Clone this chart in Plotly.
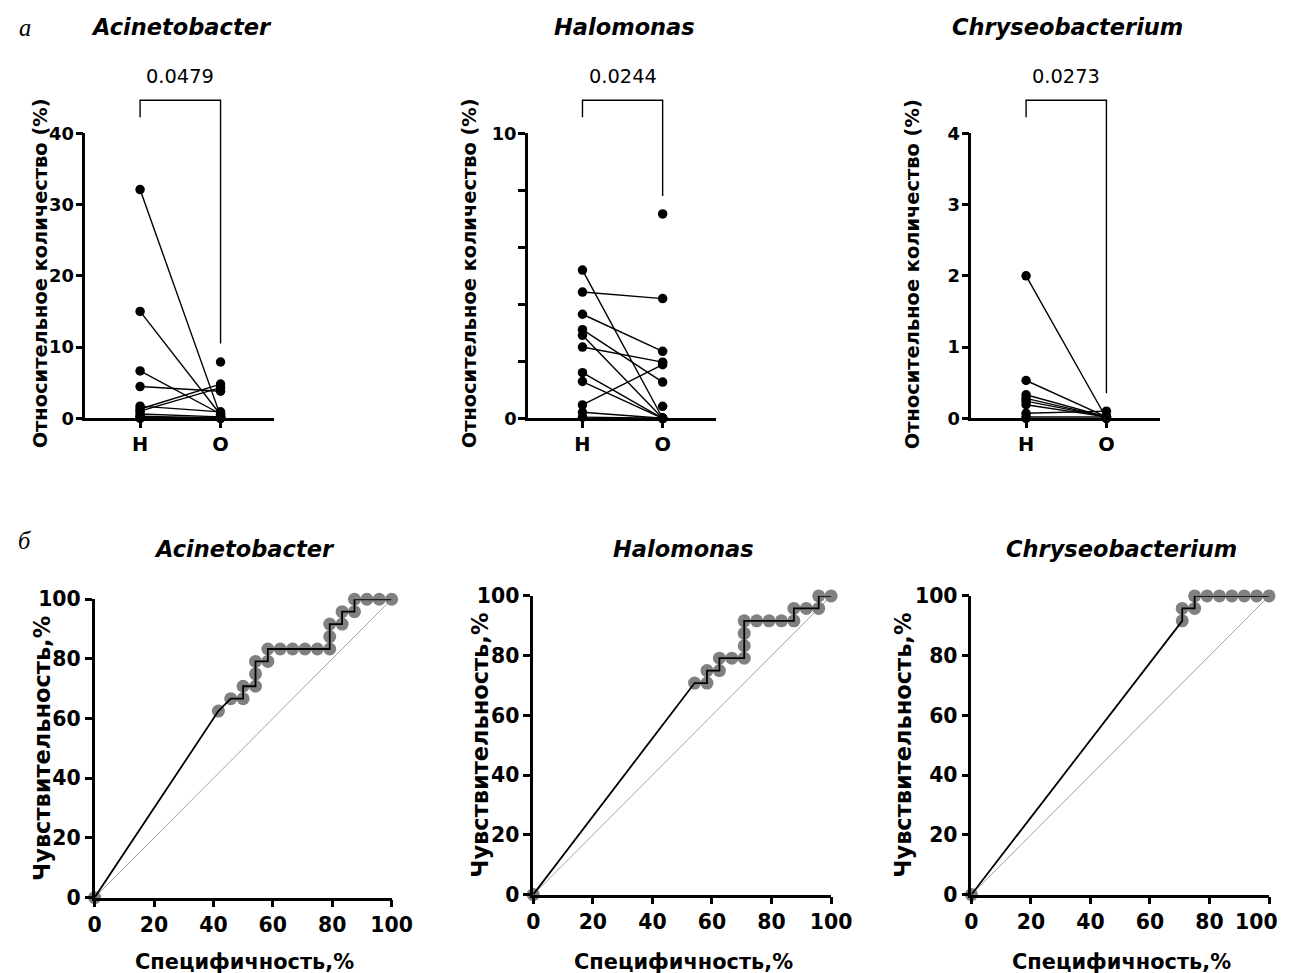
import plotly.graph_objects as go

# ---------------- data ----------------
groups = ["Н", "О"]
titles = ["Acinetobacter", "Halomonas", "Chryseobacterium"]
p_values = ["0.0479", "0.0244", "0.0273"]

# paired values (Н -> О), relative abundance, %
aci_H = [32.1, 15.0, 6.65, 4.45, 1.7, 1.3, 1.0, 0.6, 0.3, 0.1, 0.0]
aci_O = [0.3, 0.5, 0.6, 3.8, 0.9, 4.8, 4.3, 0.2, 0.0, 0.1, 0.0]
aci_O_single = [7.9]

hal_H = [5.2, 4.43, 3.65, 3.11, 2.91, 2.50, 1.60, 1.29, 0.47, 0.21, 0.04]
hal_O = [0.0, 4.20, 2.35, 1.27, 0.0, 1.97, 0.0, 0.0, 1.88, 0.0, 0.0]
hal_O_single = [7.17, 0.42]

chr_H = [2.0, 0.53, 0.33, 0.28, 0.24, 0.19, 0.07, 0.02, 0.0]
chr_O = [0.0, 0.02, 0.02, 0.02, 0.02, 0.02, 0.10, 0.02, 0.0]
chr_O_single = []

top_H = [aci_H, hal_H, chr_H]
top_O = [aci_O, hal_O, chr_O]
top_O_single = [aci_O_single, hal_O_single, chr_O_single]

top_ymax = [40, 10, 4]
top_ytickvals = [[0, 10, 20, 30, 40], [0, 2, 4, 6, 8, 10], [0, 1, 2, 3, 4]]
top_yticktext = [["0", "10", "20", "30", "40"], ["0", "", "", "", "", "10"], ["0", "1", "2", "3", "4"]]
bracket_leg_end = [10.5, 7.8, 0.35]

# ROC curves: specificity %, sensitivity %
aci_spec = [0, 41.67, 45.83, 50.0, 50.0, 54.17, 54.17, 54.17, 58.33, 58.33, 62.5, 66.67, 70.83, 75.0,
            79.17, 79.17, 79.17, 83.33, 83.33, 87.5, 87.5, 91.67, 95.83, 100]
aci_sens = [0, 62.5, 66.67, 66.67, 70.83, 70.83, 75.0, 79.17, 79.17, 83.33, 83.33, 83.33, 83.33, 83.33,
            83.33, 87.5, 91.67, 91.67, 95.83, 95.83, 100, 100, 100, 100]

hal_spec = [0, 54.17, 58.33, 58.33, 62.5, 62.5, 66.67, 70.83, 70.83, 70.83, 70.83, 75.0, 79.17, 83.33,
            87.5, 87.5, 91.67, 95.83, 95.83, 100]
hal_sens = [0, 70.83, 70.83, 75.0, 75.0, 79.17, 79.17, 79.17, 83.33, 87.5, 91.67, 91.67, 91.67, 91.67,
            91.67, 95.83, 95.83, 95.83, 100, 100]

chr_spec = [0, 70.83, 70.83, 75.0, 75.0, 79.17, 83.33, 87.5, 91.67, 95.83, 100]
chr_sens = [0, 91.67, 95.83, 95.83, 100, 100, 100, 100, 100, 100, 100]

roc_spec = [aci_spec, hal_spec, chr_spec]
roc_sens = [aci_sens, hal_sens, chr_sens]
roc_ticks = [0, 20, 40, 60, 80, 100]
roc_ticktext = ["0", "20", "40", "60", "80", "100"]

# ---------------- layout helpers ----------------
W, H = 1293, 973
FONT = "DejaVu Sans, Liberation Sans, Arial, sans-serif"
SERIF = "Liberation Serif, Times New Roman, serif"

# the page is photographed slightly scaled/offset; compensate so the
# final picture lines up with the target pixel positions
SX, OX, SY, OY = 0.983, 12.3, 0.9754, 19.7
FS = 1 / 0.979


def px_x(v):
    return ((v - OX) / SX) / W


def px_y(v):
    return 1 - ((v - OY) / SY) / H


def fs(v):
    return round(v * FS, 1)


top_xdom_px = [(83, 273), (527.7, 717), (973.3, 1163)]
top_ydom_px = (133, 418)
bot_xdom_px = [(92.3, 390.7), (533, 832.3), (973.3, 1272.3)]
bot_ydom_px = [(599, 897.3), (595.7, 894.3), (595.7, 894.3)]

top_title_px = [38, 469, 914]
bot_title_px = [40, 480, 905]

fig = go.Figure()

axis_common = dict(
    showline=True, linecolor="black", linewidth=2.6,
    ticks="outside", tickcolor="black", tickwidth=2.6, ticklen=7,
    showgrid=False, zeroline=False,
    tickfont=dict(family=FONT, size=fs(20), color="black", weight="bold"),
    fixedrange=True,
)
top_tickfont = dict(family=FONT, size=fs(17.5), color="black", weight="bold")

layout = dict(
    width=W, height=H,
    margin=dict(l=0, r=0, t=0, b=0),
    paper_bgcolor="white", plot_bgcolor="white",
    showlegend=False,
    font=dict(family=FONT, color="black"),
)

annotations = []
shapes = []

for i in range(3):
    n = i + 1
    xa = "x" if n == 1 else f"x{n}"
    ya = "y" if n == 1 else f"y{n}"
    # pair lines
    lx, ly = [], []
    for h, o in zip(top_H[i], top_O[i]):
        lx += [0, 1, None]
        ly += [h, o, None]
    fig.add_trace(go.Scatter(x=lx, y=ly, mode="lines", line=dict(color="black", width=1.4),
                             xaxis=xa, yaxis=ya, cliponaxis=False, hoverinfo="skip"))
    mx = [0] * len(top_H[i]) + [1] * (len(top_O[i]) + len(top_O_single[i]))
    my = list(top_H[i]) + list(top_O[i]) + list(top_O_single[i])
    fig.add_trace(go.Scatter(x=mx, y=my, mode="markers", marker=dict(color="black", size=9.5),
                             xaxis=xa, yaxis=ya, cliponaxis=False))

    x0, x1 = top_xdom_px[i]
    layout["xaxis" if n == 1 else f"xaxis{n}"] = dict(
        axis_common, domain=[px_x(x0), px_x(x1)], anchor=ya,
        range=[-0.68, 1.67], tickvals=[0, 1], ticktext=groups,
        tickfont=dict(top_tickfont, size=fs(19)),
    )
    layout["yaxis" if n == 1 else f"yaxis{n}"] = dict(
        axis_common, domain=[px_y(top_ydom_px[1]), px_y(top_ydom_px[0])], anchor=xa,
        range=[0, top_ymax[i]], tickvals=top_ytickvals[i], ticktext=top_yticktext[i],
        tickfont=top_tickfont, ticklabelstandoff=-2,
    )

    # significance bracket
    dom_h = top_ydom_px[1] - top_ydom_px[0]
    top_frac = (top_ydom_px[1] - 100) / dom_h
    left_end = (top_ydom_px[1] - 117) / dom_h
    right_end = bracket_leg_end[i] / top_ymax[i]
    shapes.append(dict(type="path", xref=xa, yref=f"{ya} domain",
                       path=f"M 0,{left_end} L 0,{top_frac} L 1,{top_frac} L 1,{right_end}",
                       line=dict(color="black", width=1.4)))
    annotations.append(dict(x=0.5, xref=xa, y=px_y(76), yref="paper", text=p_values[i],
                            showarrow=False, font=dict(family=FONT, size=fs(19), color="black"),
                            xanchor="center", yanchor="middle"))
    # title
    annotations.append(dict(x=px_x((x0 + x1) / 2 + 2), y=px_y(27), xref="paper", yref="paper",
                            text=f"<b><i>{titles[i]}</i></b>", showarrow=False,
                            font=dict(family=FONT, size=fs(22), color="black"),
                            xanchor="center", yanchor="middle"))
    # y title
    annotations.append(dict(x=px_x(top_title_px[i]), y=px_y(sum(top_ydom_px) / 2 - 2),
                            xref="paper", yref="paper", textangle=-90,
                            text="<b>Относительное количество (%)</b>", showarrow=False,
                            font=dict(family=FONT, size=fs(19), color="black"),
                            xanchor="center", yanchor="middle"))

for i in range(3):
    n = i + 4
    xa = f"x{n}"
    ya = f"y{n}"
    fig.add_trace(go.Scatter(x=[0, 100], y=[0, 100], mode="lines",
                             line=dict(color="#8a8a8a", width=0.8),
                             xaxis=xa, yaxis=ya, hoverinfo="skip"))
    fig.add_trace(go.Scatter(x=roc_spec[i], y=roc_sens[i], mode="markers",
                             marker=dict(color="#808080", size=13),
                             xaxis=xa, yaxis=ya, cliponaxis=False))
    fig.add_trace(go.Scatter(x=roc_spec[i], y=roc_sens[i], mode="lines",
                             line=dict(color="black", width=1.8),
                             xaxis=xa, yaxis=ya, cliponaxis=False))
    x0, x1 = bot_xdom_px[i]
    y0, y1 = bot_ydom_px[i]
    xt = list(roc_ticktext)
    if i == 2:
        # last label would run past the page edge; drawn right-aligned below
        xt[-1] = ""
        annotations.append(dict(x=1, xref="paper", y=roc_ticks[0], yref=ya,
                                text="<b>" + roc_ticktext[-1] + "</b>", showarrow=False,
                                font=dict(family=FONT, size=fs(20), color="black"),
                                xanchor="right", yanchor="top", yshift=-13))
    layout[f"xaxis{n}"] = dict(axis_common, domain=[px_x(x0), px_x(x1)], anchor=ya,
                               range=[0, 100], tickvals=roc_ticks, ticktext=xt)
    layout[f"yaxis{n}"] = dict(axis_common, domain=[px_y(y1), px_y(y0)], anchor=xa,
                               range=[0, 100], tickvals=roc_ticks, ticktext=roc_ticktext)
    annotations.append(dict(x=px_x((x0 + x1) / 2 + 1), y=px_y(549), xref="paper", yref="paper",
                            text=f"<b><i>{titles[i]}</i></b>", showarrow=False,
                            font=dict(family=FONT, size=fs(22), color="black"),
                            xanchor="center", yanchor="middle"))
    annotations.append(dict(x=px_x((x0 + x1) / 2 + 1), y=px_y(962), xref="paper", yref="paper",
                            text="<b>Специфичность,%</b>", showarrow=False,
                            font=dict(family=FONT, size=fs(20.5), color="black"),
                            xanchor="center", yanchor="middle"))
    annotations.append(dict(x=px_x(bot_title_px[i]), y=px_y((y0 + y1) / 2),
                            xref="paper", yref="paper", textangle=-90,
                            text="<b>Чувствительность,%</b>", showarrow=False,
                            font=dict(family=FONT, size=fs(22), color="black"),
                            xanchor="center", yanchor="middle"))

annotations.append(dict(x=px_x(22), y=px_y(27), xref="paper", yref="paper", text="<i>а</i>",
                        showarrow=False, font=dict(family=SERIF, size=fs(24), color="black"),
                        xanchor="center", yanchor="middle"))
annotations.append(dict(x=px_x(22), y=px_y(540), xref="paper", yref="paper", text="<i>б</i>",
                        showarrow=False, font=dict(family=SERIF, size=fs(24), color="black"),
                        xanchor="center", yanchor="middle"))

layout["annotations"] = annotations
layout["shapes"] = shapes
fig.update_layout(**layout)

fig.write_html("out.html")
